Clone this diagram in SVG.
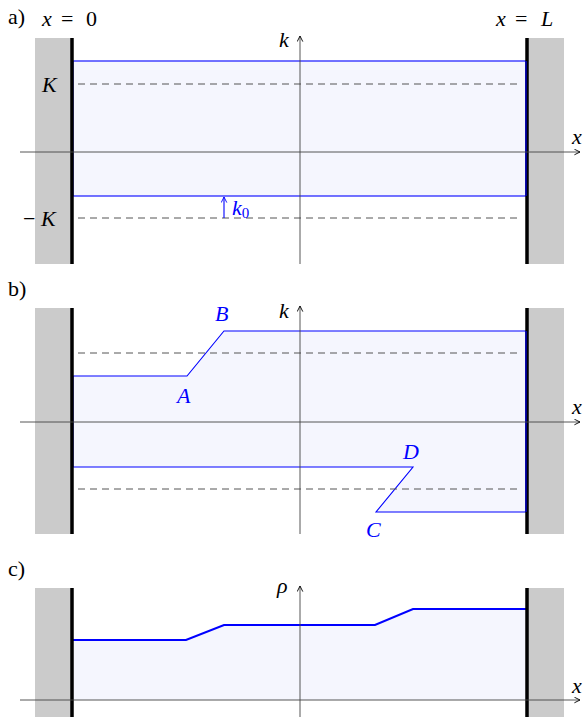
<svg xmlns="http://www.w3.org/2000/svg" width="586" height="717" viewBox="0 0 586 717">
<defs>
<marker id="arr" viewBox="0 0 10 10" refX="9" refY="5" markerWidth="7" markerHeight="7" orient="auto" markerUnits="userSpaceOnUse">
<path d="M1,1 L9,5 L1,9" fill="none" stroke="#000" stroke-width="1.3"/>
</marker>
<marker id="barr" viewBox="0 0 10 10" refX="9" refY="5" markerWidth="7" markerHeight="7" orient="auto" markerUnits="userSpaceOnUse">
<path d="M1,1 L9,5 L1,9" fill="none" stroke="#0000ff" stroke-width="1.3"/>
</marker>
</defs>
<style>
.wallbg{fill:#cbcbcb}
.wall{stroke:#000;stroke-width:3.5}
.axis{stroke:#444;stroke-width:0.9;fill:none}
.dash{stroke:#555;stroke-width:1;stroke-dasharray:7 5;fill:none}
.fill{fill:#f5f6fe}
.blue{stroke:#0000ff;stroke-width:1.1;fill:none}
.thick{stroke:#0000ff;stroke-width:2.2;fill:none}
text{font-family:'Liberation Serif','DejaVu Serif',serif;font-size:22px;fill:#000}
.i{font-style:italic}
.b{fill:#0000ff}
</style>
<!-- Panel a -->
<g id="panel-a">
<rect class="wallbg" x="35" y="38" width="37" height="226"/>
<rect class="wallbg" x="527" y="38" width="37" height="226"/>
<rect class="fill" x="73" y="61" width="453" height="135"/>
<rect class="blue" x="73" y="61" width="453" height="135"/>
<line class="dash" x1="78" y1="84" x2="520" y2="84"/>
<line class="dash" x1="78" y1="218" x2="520" y2="218"/>
<line class="wall" x1="72" y1="38" x2="72" y2="264"/>
<line class="wall" x1="527" y1="38" x2="527" y2="264"/>
<line class="blue" x1="526" y1="61" x2="526" y2="196" stroke-width="2"/>
<text x="8" y="24">a)</text>
<text x="42" y="26"><tspan class="i">x</tspan><tspan x="61">=</tspan><tspan x="86">0</tspan></text>
<text x="496" y="26"><tspan class="i">x</tspan><tspan x="515">=</tspan><tspan class="i" x="541">L</tspan></text>
<text class="i" x="42" y="92">K</text>
<text x="23" y="226">−<tspan class="i" x="41">K</tspan></text>
<text class="i" x="279" y="47">k</text>
<text class="i" x="572" y="144">x</text>
</g>
<g id="k0">
<line x1="224" y1="218" x2="224" y2="197" stroke="#0000ff" stroke-width="1.1" marker-end="url(#barr)"/>
<text class="i b" x="232" y="215">k<tspan class="b" style="font-style:normal;font-size:15px" dy="3">0</tspan></text>
</g>
<!-- Panel b -->
<g id="panel-b">
<rect class="wallbg" x="35" y="308" width="37" height="226"/>
<rect class="wallbg" x="527" y="308" width="37" height="226"/>
<polygon class="fill" points="73,376 187,376 224,331 526,331 526,512 376,512 413,467 73,467"/>
<polygon class="blue" points="73,376 187,376 224,331 526,331 526,512 376,512 413,467 73,467"/>
<line class="dash" x1="78" y1="353" x2="520" y2="353"/>
<line class="dash" x1="78" y1="489" x2="520" y2="489"/>
<line class="wall" x1="72" y1="308" x2="72" y2="534"/>
<line class="wall" x1="527" y1="308" x2="527" y2="534"/>
<line class="blue" x1="526" y1="331" x2="526" y2="512" stroke-width="2"/>
<text x="8" y="296">b)</text>
<text class="i" x="279" y="318">k</text>
<text class="i" x="572" y="414">x</text>
<text class="i b" x="177" y="403">A</text>
<text class="i b" x="215" y="321">B</text>
<text class="i b" x="366" y="537">C</text>
<text class="i b" x="403" y="459">D</text>
</g>
<!-- Panel c -->
<g id="panel-c">
<rect class="wallbg" x="35" y="588" width="37" height="129"/>
<rect class="wallbg" x="527" y="588" width="37" height="129"/>
<polygon class="fill" points="73,640 186,640 224,625 375,625 413,609 526,609 526,700 73,700"/>
<polyline class="thick" points="73,640 186,640 224,625 375,625 413,609 526,609"/>
<line class="wall" x1="72" y1="588" x2="72" y2="717"/>
<line class="wall" x1="527" y1="588" x2="527" y2="717"/>
<text x="8" y="576">c)</text>
<text class="i" x="277" y="593">ρ</text>
<text class="i" x="572" y="693">x</text>
</g>
<!-- Axes -->
<g id="connectors">
<line class="axis" x1="20" y1="152" x2="580" y2="152" marker-end="url(#arr)"/>
<line class="axis" x1="300" y1="264" x2="300" y2="36" marker-end="url(#arr)"/>
<line class="axis" x1="20" y1="422" x2="580" y2="422" marker-end="url(#arr)"/>
<line class="axis" x1="300" y1="534" x2="300" y2="306" marker-end="url(#arr)"/>
<line class="axis" x1="20" y1="700" x2="580" y2="700" marker-end="url(#arr)"/>
<line class="axis" x1="300" y1="717" x2="300" y2="586" marker-end="url(#arr)"/>
</g>
</svg>
